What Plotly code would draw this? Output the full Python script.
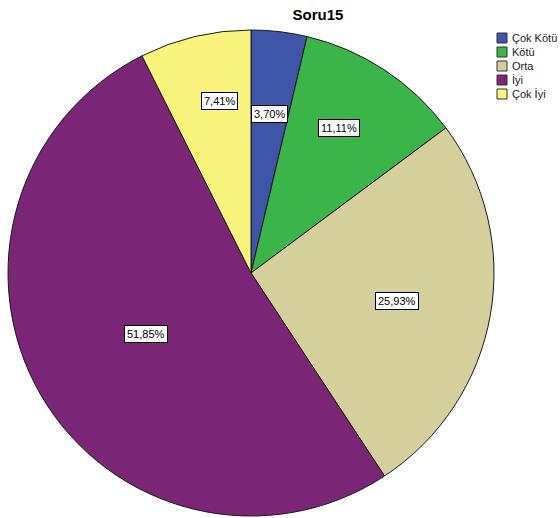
import math
import plotly.graph_objects as go

title = "Soru15"
categories = ["Çok Kötü", "Kötü", "Orta", "İyi", "Çok İyi"]
counts = [1, 3, 7, 14, 2]
colors = ["#3F55A8", "#3BB449", "#D5D09B", "#7B2576", "#FAF37E"]

W, H = 560, 518
cx, cy, R = 251, 273, 243
dom_x = [(cx - R) / W, (cx + R) / W]
dom_y = [(H - cy - R) / H, (H - cy + R) / H]
FONT = "Liberation Sans, Arial, sans-serif"

fig = go.Figure(go.Pie(
    labels=categories, values=counts, sort=False, direction="clockwise",
    rotation=0, marker=dict(colors=colors, line=dict(color="#1a1a1a", width=1)),
    textinfo="none", hoverinfo="label+percent", domain=dict(x=dom_x, y=dom_y),
    showlegend=False,
))

# boxed percentage labels, placed near the angular middle of each slice
label_radius = [0.66, 0.70, 0.61, 0.50, 0.72]
label_shift_deg = [0, -2, 1, 0, 3]
total = sum(counts)
cum = 0
for v, rf, sh in zip(counts, label_radius, label_shift_deg):
    mid = (cum + v / 2) / total * 2 * math.pi + math.radians(sh)
    cum += v
    px = cx + rf * R * math.sin(mid)
    py = cy - rf * R * math.cos(mid)
    pct = f"{100 * v / total:.2f}%".replace(".", ",")
    fig.add_annotation(
        x=px / W, y=1 - py / H, xref="paper", yref="paper", text=pct,
        xanchor="center", yanchor="middle",
        showarrow=False, bgcolor="white", bordercolor="black", borderwidth=1,
        borderpad=2, font=dict(family=FONT, size=11, color="black"),
    )

# legend (drawn manually to match the compact SPSS legend)
lx, ly0, dy, sw = 497, 38, 14, 10
for i, (name, col) in enumerate(zip(categories, colors)):
    yc = ly0 + i * dy
    fig.add_shape(type="rect", xref="paper", yref="paper",
                  x0=lx / W, x1=(lx + sw) / W,
                  y0=1 - (yc + sw / 2) / H, y1=1 - (yc - sw / 2) / H,
                  fillcolor=col, line=dict(color="#333333", width=1))
    fig.add_annotation(x=(lx + sw + 3) / W, y=1 - yc / H, xref="paper", yref="paper",
                       text=name, showarrow=False, xanchor="left", yanchor="middle",
                       font=dict(family=FONT, size=11, color="#222222"))

fig.update_layout(
    width=W, height=H, margin=dict(l=0, r=0, t=0, b=0, autoexpand=False),
    paper_bgcolor="white", plot_bgcolor="white",
    title=dict(text=f"<b>{title}</b>", x=318 / W, xanchor="center", y=1 - 15 / H,
               yanchor="middle", font=dict(family=FONT, size=15, color="black")),
    showlegend=False,
)

fig.write_html("out.html", config={"displayModeBar": False},
               post_script="document.body.style.margin='0';document.body.style.overflow='hidden';")
